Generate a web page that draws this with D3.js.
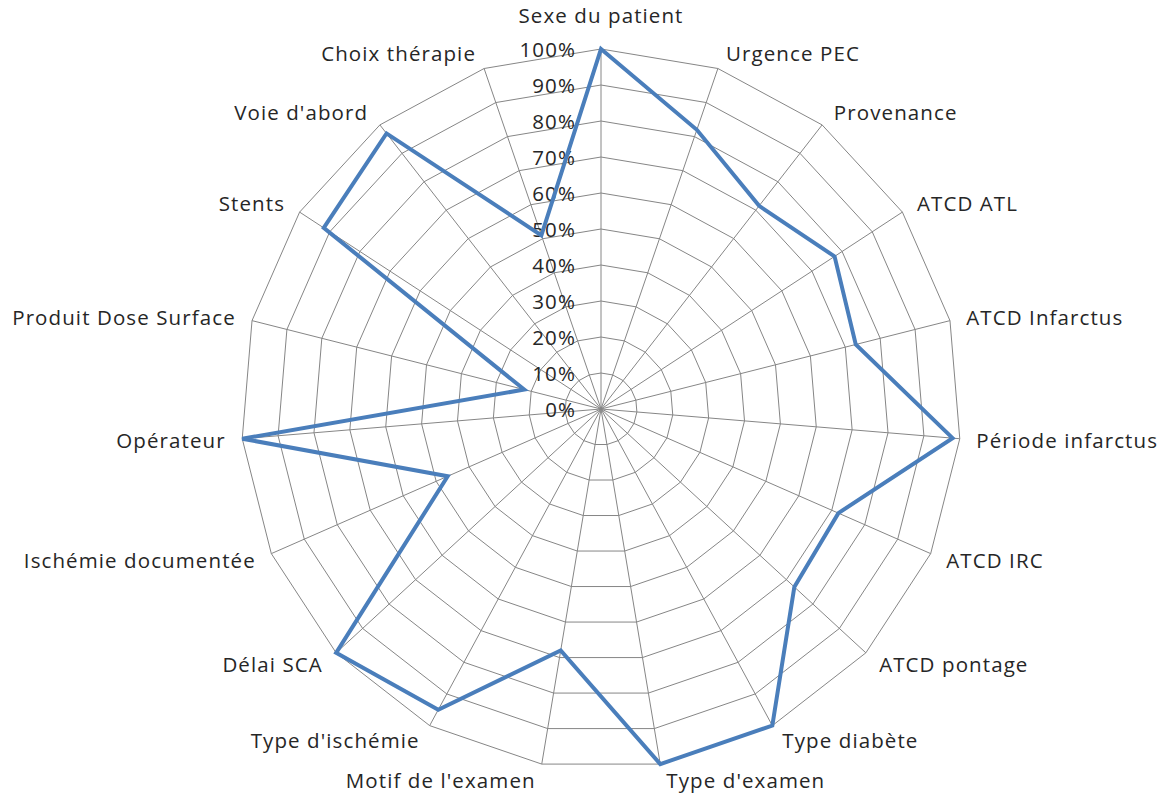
<!DOCTYPE html>
<html>
<head>
<meta charset="utf-8">
<script src="https://cdn.jsdelivr.net/npm/d3@7/dist/d3.min.js"></script>
<style>
  html, body { margin: 0; padding: 0; background: #fff; }
  svg { display: block; }
  text { font-family: "Open Sans", "Noto Sans", sans-serif; fill: #262626; font-size: 20.5px; letter-spacing: 1.1px; }
</style>
</head>
<body>
<svg id="chart" width="1160" height="794"></svg>
<script>
// Radar axes (clockwise from top)
const categories = [
  "Sexe du patient", "Urgence PEC", "Provenance", "ATCD ATL", "ATCD Infarctus",
  "Période infarctus", "ATCD IRC", "ATCD pontage", "Type diabète", "Type d'examen",
  "Motif de l'examen", "Type d'ischémie", "Délai SCA", "Ischémie documentée",
  "Opérateur", "Produit Dose Surface", "Stents", "Voie d'abord", "Choix thérapie"
];
// Share per axis (0–1)
const values = [
  1.00, 0.82, 0.715, 0.775, 0.73,
  0.98, 0.72, 0.73, 1.00, 1.00,
  0.68, 0.95, 1.00, 0.465,
  1.00, 0.22, 0.92, 0.97, 0.51
];
const tickValues = [0, 0.1, 0.2, 0.3, 0.4, 0.5, 0.6, 0.7, 0.8, 0.9, 1.0];

const svg = d3.select("#chart");
const cx = 601, cy = 409, R = 360;

const r = d3.scaleLinear().domain([0, 1]).range([0, R]);
const angle = d3.scaleLinear().domain([0, categories.length]).range([0, 2 * Math.PI]);

const pt = (i, v) => {
  const a = angle(i);
  return [cx + r(v) * Math.sin(a), cy - r(v) * Math.cos(a)];
};

const g = svg.append("g");

// Polygon gridlines
const ringLine = d3.line();
tickValues.filter(t => t > 0).forEach(t => {
  const pts = categories.map((_, i) => pt(i, t));
  g.append("path")
    .attr("d", ringLine(pts) + "Z")
    .attr("fill", "none")
    .attr("stroke", "#868686")
    .attr("stroke-width", 1);
});

// Spokes
categories.forEach((_, i) => {
  const [x, y] = pt(i, 1);
  g.append("line")
    .attr("x1", cx).attr("y1", cy).attr("x2", x).attr("y2", y)
    .attr("stroke", "#868686").attr("stroke-width", 1);
});

// Tick labels along the vertical axis
g.selectAll("text.tick")
  .data(tickValues)
  .join("text")
  .attr("class", "tick")
  .attr("x", cx - 25)
  .attr("y", d => cy - r(d))
  .attr("text-anchor", "end")
  .attr("dominant-baseline", "central")
  .text(d3.format(".0%"));

// Category labels
categories.forEach((c, i) => {
  const a = angle(i);
  const s = Math.sin(a), co = Math.cos(a);
  const [x, y] = pt(i, 1.035);
  const t = g.append("text").text(c);
  if (Math.abs(s) < 0.05) {
    t.attr("x", x).attr("y", cy - r(1) - 34).attr("text-anchor", "middle").attr("dominant-baseline", "central");
  } else {
    t.attr("x", x + (s > 0 ? 4 : -4))
     .attr("y", y - co * 4)
     .attr("text-anchor", s > 0 ? "start" : "end")
     .attr("dominant-baseline", "central");
  }
});

// Data series
const line = d3.lineRadial()
  .angle((d, i) => angle(i))
  .radius(d => r(d))
  .curve(d3.curveLinearClosed);

g.append("path")
  .datum(values)
  .attr("transform", `translate(${cx},${cy})`)
  .attr("d", line)
  .attr("fill", "none")
  .attr("stroke", "#4A7EBB")
  .attr("stroke-width", 4)
  .attr("stroke-linejoin", "miter");
</script>
</body>
</html>
